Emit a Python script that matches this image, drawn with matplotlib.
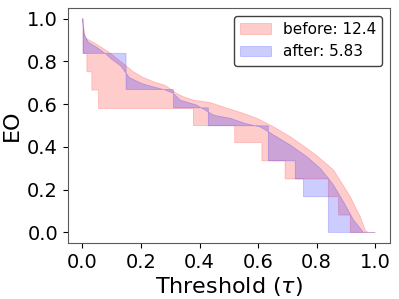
import numpy as np
import matplotlib
matplotlib.use("Agg")
import matplotlib.pyplot as plt

# upper (smooth-ish) curves
before_up_x = [0.0, 0.01, 0.043, 0.089, 0.146, 0.174, 0.203, 0.243, 0.283, 0.322, 0.345,
               0.379, 0.436, 0.493, 0.550, 0.596, 0.653, 0.710, 0.767, 0.80, 0.858,
               0.915, 0.949, 0.966, 0.975, 1.0]
before_up_y = [1.0, 0.91, 0.885, 0.845, 0.783, 0.752, 0.728, 0.705, 0.688, 0.650, 0.635,
               0.619, 0.608, 0.582, 0.557, 0.534, 0.494, 0.448, 0.393, 0.36, 0.292,
               0.167, 0.073, 0.011, 0.0, 0.0]

after_up_x = [0.0, 0.005, 0.02, 0.05, 0.08, 0.10, 0.13, 0.16, 0.20, 0.24, 0.28, 0.31,
              0.334, 0.39, 0.448, 0.505, 0.556, 0.607, 0.653, 0.71, 0.767, 0.812, 0.84,
              0.858, 0.892, 0.926, 0.96, 1.0]
after_up_y = [1.0, 0.93, 0.89, 0.865, 0.835, 0.81, 0.78, 0.725, 0.698, 0.682, 0.668, 0.651,
              0.619, 0.596, 0.549, 0.534, 0.510, 0.494, 0.456, 0.409, 0.354, 0.30, 0.253,
              0.221, 0.143, 0.058, 0.0, 0.0]

# lower step curves (value holds from x[i] to x[i+1])
before_lo_x = [0.0, 0.002, 0.015, 0.032, 0.055, 0.379, 0.52, 0.613, 0.692, 0.840, 0.875, 0.915, 1.0]
before_lo_y = [1.0, 0.838, 0.752, 0.666, 0.58, 0.50, 0.42, 0.335, 0.25, 0.167, 0.081, 0.0, 0.0]

after_lo_x = [0.0, 0.002, 0.149, 0.311, 0.43, 0.635, 0.727, 0.755, 0.840, 1.0]
after_lo_y = [1.0, 0.838, 0.669, 0.583, 0.499, 0.335, 0.25, 0.167, 0.0, 0.0]

labels = ["before: 12.4", "after: 5.83"]


def band(ax, ux, uy, lx, ly, color, label):
    # expand the step curve into vertices, then close the polygon with the upper curve
    sx, sy = [], []
    for i in range(len(lx) - 1):
        sx += [lx[i], lx[i + 1]]
        sy += [ly[i], ly[i]]
    sx.append(lx[-1])
    sy.append(ly[-1])
    px = list(ux) + sx[::-1]
    py = list(uy) + sy[::-1]
    ax.fill(px, py, color=color, alpha=0.2, linewidth=0.6, label=label)


fig = plt.figure(figsize=(3.99, 2.99), dpi=100)
ax = fig.add_subplot(111)
fig.subplots_adjust(left=0.170, right=0.977, top=0.973, bottom=0.187)

band(ax, before_up_x, before_up_y, before_lo_x, before_lo_y, "red", labels[0])
band(ax, after_up_x, after_up_y, after_lo_x, after_lo_y, "blue", labels[1])

ax.set_xlim(-0.05, 1.05)
ax.set_ylim(-0.05, 1.05)
ax.set_xticks([0.0, 0.2, 0.4, 0.6, 0.8, 1.0])
ax.set_yticks([0.0, 0.2, 0.4, 0.6, 0.8, 1.0])
ax.tick_params(labelsize=14)
for s in ax.spines.values():
    s.set_color("0.35")
ax.set_xlabel(r"Threshold ($\tau$)", fontsize=16, labelpad=2)
ax.set_ylabel("EO", fontsize=16, labelpad=4)
leg = ax.legend(loc="upper right", fontsize=11, framealpha=1)
leg.get_frame().set_edgecolor("0.25")

fig.savefig("out.png", dpi=100)
